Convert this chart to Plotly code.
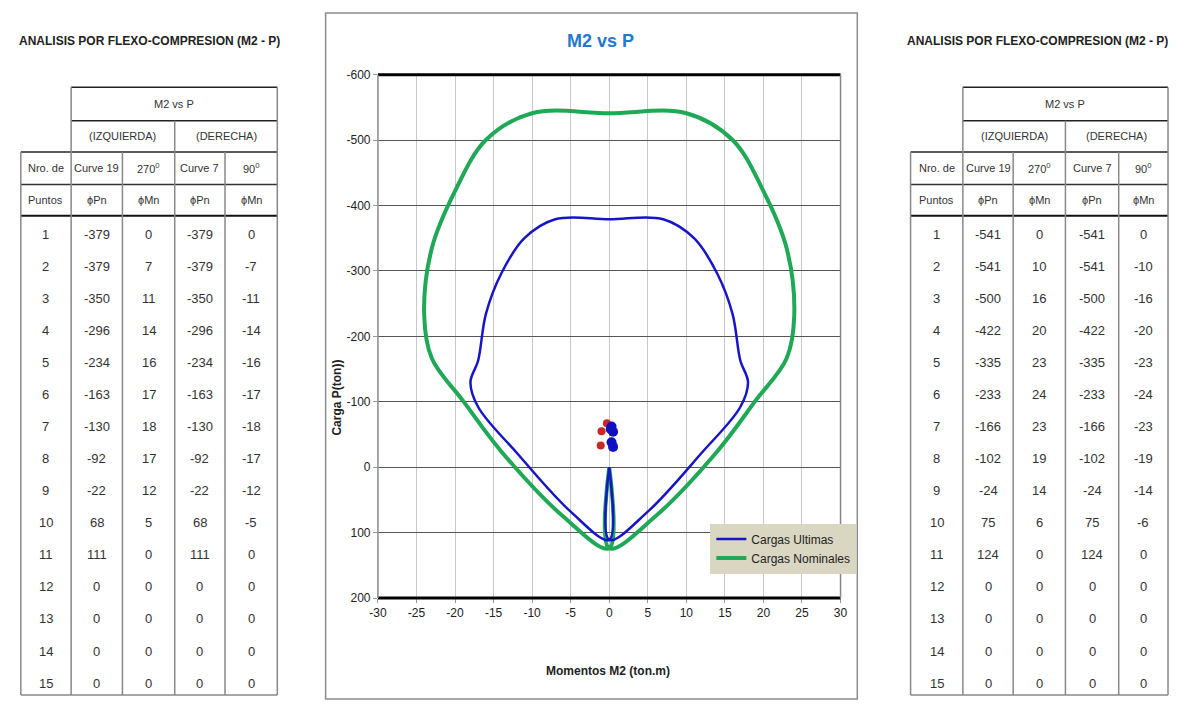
import plotly.graph_objects as go

W, H = 1177, 704

# ---------------- data ----------------
puntos = list(range(1, 16))

# Cargas Ultimas (left table)
ult_izq_pn = [-379, -379, -350, -296, -234, -163, -130, -92, -22, 68, 111, 0, 0, 0, 0]
ult_izq_mn = [0, 7, 11, 14, 16, 17, 18, 17, 12, 5, 0, 0, 0, 0, 0]
ult_der_pn = [-379, -379, -350, -296, -234, -163, -130, -92, -22, 68, 111, 0, 0, 0, 0]
ult_der_mn = [0, -7, -11, -14, -16, -17, -18, -17, -12, -5, 0, 0, 0, 0, 0]

# Cargas Nominales (right table)
nom_izq_pn = [-541, -541, -500, -422, -335, -233, -166, -102, -24, 75, 124, 0, 0, 0, 0]
nom_izq_mn = [0, 10, 16, 20, 23, 24, 23, 19, 14, 6, 0, 0, 0, 0, 0]
nom_der_pn = [-541, -541, -500, -422, -335, -233, -166, -102, -24, 75, 124, 0, 0, 0, 0]
nom_der_mn = [0, -10, -16, -20, -23, -24, -23, -19, -14, -6, 0, 0, 0, 0, 0]

# Load points (Mu, Pu)
cargas_azul_m = [0.3, 0.5, 0.2, 0.3, 0.5]
cargas_azul_p = [-62, -54, -58, -38, -31]
cargas_roja_m = [-1.0, -1.1, -0.3]
cargas_roja_p = [-55, -33, -67]

x_ticks = [-30, -25, -20, -15, -10, -5, 0, 5, 10, 15, 20, 25, 30]
y_ticks = [-600, -500, -400, -300, -200, -100, 0, 100, 200]

FN = "Liberation Sans, Arial, sans-serif"
BLUE = "#1616C8"
GREEN = "#1FA855"


def px(x):
    return x / W


def py(y):
    return 1 - y / H


def loop(izq_m, izq_p, der_m, der_p):
    xs = list(reversed(der_m)) + izq_m[1:]
    ys = list(reversed(der_p)) + izq_p[1:]
    ox, oy = [], []
    for a, b in zip(xs, ys):
        if ox and ox[-1] == a and oy[-1] == b:
            continue
        ox.append(a)
        oy.append(b)
    return ox, oy


fig = go.Figure()

ux, uy = loop(ult_izq_mn, ult_izq_pn, ult_der_mn, ult_der_pn)
nx, ny = loop(nom_izq_mn, nom_izq_pn, nom_der_mn, nom_der_pn)

fig.add_trace(go.Scatter(x=nx, y=ny, mode="lines", name="Cargas Nominales",
                         line=dict(color=GREEN, width=4, shape="spline", smoothing=1)))
fig.add_trace(go.Scatter(x=ux, y=uy, mode="lines", name="Cargas Ultimas",
                         line=dict(color=BLUE, width=2.5, shape="spline", smoothing=1)))
fig.add_trace(go.Scatter(x=cargas_roja_m, y=cargas_roja_p, mode="markers", showlegend=False,
                         marker=dict(color="#C82828", size=8)))
fig.add_trace(go.Scatter(x=cargas_azul_m, y=cargas_azul_p, mode="markers", showlegend=False,
                         marker=dict(color="#1010C0", size=10)))

X0, X1, Y0, Y1 = 374, 843, 69, 603

fig.update_layout(
    width=W, height=H,
    margin=dict(l=0, r=0, t=0, b=0),
    paper_bgcolor="white", plot_bgcolor="white",
    showlegend=True,
    legend=dict(x=px(711), y=py(527), xanchor="left", yanchor="top",
                bgcolor="#D9D6C2", bordercolor="#D9D6C2", borderwidth=1,
                traceorder="reversed",
                font=dict(family=FN, size=12, color="#222"),
                itemwidth=30, tracegroupgap=4),
    xaxis=dict(domain=[px(X0), px(X1)], range=[-30, 30], tickvals=x_ticks,
               ticktext=[str(v) for v in x_ticks],
               showgrid=True, gridcolor="#C8C8C8", gridwidth=1, zeroline=False,
               ticks="outside", ticklen=4, tickcolor="#999",
               tickfont=dict(family=FN, size=12, color="#222")),
    yaxis=dict(domain=[py(Y1), py(Y0)], range=[200, -600], tickvals=y_ticks,
               ticktext=[str(v) for v in y_ticks],
               showgrid=True, gridcolor="#555555", gridwidth=1, zeroline=False,
               ticks="outside", ticklen=4, tickcolor="#999",
               tickfont=dict(family=FN, size=12, color="#222")),
)

shapes = []
ann = []


def hline(x0, x1, y, color="#333", w=1.5):
    shapes.append(dict(type="line", xref="paper", yref="paper", x0=px(x0), x1=px(x1),
                       y0=py(y), y1=py(y), line=dict(color=color, width=w)))


def vline(x, y0, y1, color="#888", w=1.5):
    shapes.append(dict(type="line", xref="paper", yref="paper", x0=px(x), x1=px(x),
                       y0=py(y0), y1=py(y1), line=dict(color=color, width=w)))


def text(x, y, s, size=12, color="#333", bold=False, family=FN, angle=0):
    ann.append(dict(xref="paper", yref="paper", x=px(x), y=py(y), text=f"<b>{s}</b>" if bold else s,
                    showarrow=False, xanchor="center", yanchor="middle", textangle=angle,
                    font=dict(family=family, size=size, color=color)))


# chart frame
shapes.append(dict(type="rect", xref="paper", yref="paper", x0=px(321), x1=px(860), y0=py(706), y1=py(6),
                   line=dict(color="#8C8C8C", width=1.5), layer="below"))
# plot borders
hline(X0, X1, Y0, "#000", 3)
hline(X0, X1, Y1, "#000", 3)
vline(X0, Y0, Y1, "#888", 1.5)
vline(X1, Y0, Y1, "#888", 1.5)

text(600, 35, "M2 vs P", size=18, color="#1F78D1", bold=True)
text(607, 677, "Momentos M2 (ton.m)", size=12, color="#222", bold=True)
text(333, 398, "Carga P(ton))", size=12, color="#222", bold=True, angle=-90)


def draw_table(cols, title_x, pn_i, mn_i, pn_d, mn_d):
    c0, c1, c2, c3, c4, c5 = cols
    top, r1, r2, r3, r4, bot = 82, 116, 148, 181, 213, 702
    text(title_x, 35, "ANALISIS POR FLEXO-COMPRESION (M2 - P)", size=12, color="#222", bold=True)
    hline(c1, c5, top, "#222")
    hline(c1, c5, r1, "#222")
    hline(c0, c5, r2, "#222")
    hline(c0, c5, r3, "#333")
    hline(c0, c5, r4, "#111", 2)
    hline(c0, c5, bot, "#888")
    vline(c1, top, bot)
    vline(c5, top, bot)
    vline(c3, r1, bot)
    vline(c0, r2, bot)
    vline(c2, r2, bot)
    vline(c4, r2, bot)
    text((c1 + c5) / 2, (top + r1) / 2, "M2 vs P", size=11)
    text((c1 + c3) / 2, (r1 + r2) / 2, "(IZQUIERDA)", size=11)
    text((c3 + c5) / 2, (r1 + r2) / 2, "(DERECHA)", size=11)
    ym = (r2 + r3) / 2
    text((c0 + c1) / 2, ym, "Nro. de", size=11)
    text((c1 + c2) / 2, ym, "Curve 19", size=11)
    text((c2 + c3) / 2, ym, "270<sup>0</sup>", size=11)
    text((c3 + c4) / 2, ym, "Curve 7", size=11)
    text((c4 + c5) / 2, ym, "90<sup>0</sup>", size=11)
    ym = (r3 + r4) / 2
    text((c0 + c1) / 2, ym, "Puntos", size=11)
    text((c1 + c2) / 2, ym, "ϕPn", size=11)
    text((c2 + c3) / 2, ym, "ϕMn", size=11)
    text((c3 + c4) / 2, ym, "ϕPn", size=11)
    text((c4 + c5) / 2, ym, "ϕMn", size=11)
    for i, n in enumerate(puntos):
        y = 232 + i * 32.7
        text((c0 + c1) / 2, y, str(n), size=13)
        text((c1 + c2) / 2, y, str(pn_i[i]), size=13)
        text((c2 + c3) / 2, y, str(mn_i[i]), size=13)
        text((c3 + c4) / 2, y, str(pn_d[i]), size=13)
        text((c4 + c5) / 2, y, str(mn_d[i]), size=13)


draw_table([12, 63, 115, 168, 219, 272], 142, ult_izq_pn, ult_izq_mn, ult_der_pn, ult_der_mn)
draw_table([914, 967, 1018, 1071, 1125, 1175], 1043, nom_izq_pn, nom_izq_mn, nom_der_pn, nom_der_mn)

fig.update_layout(shapes=shapes, annotations=ann)

fig.write_html("out.html", config={"displayModeBar": False},
               post_script="document.body.style.margin='0';document.body.style.overflow='hidden';")
